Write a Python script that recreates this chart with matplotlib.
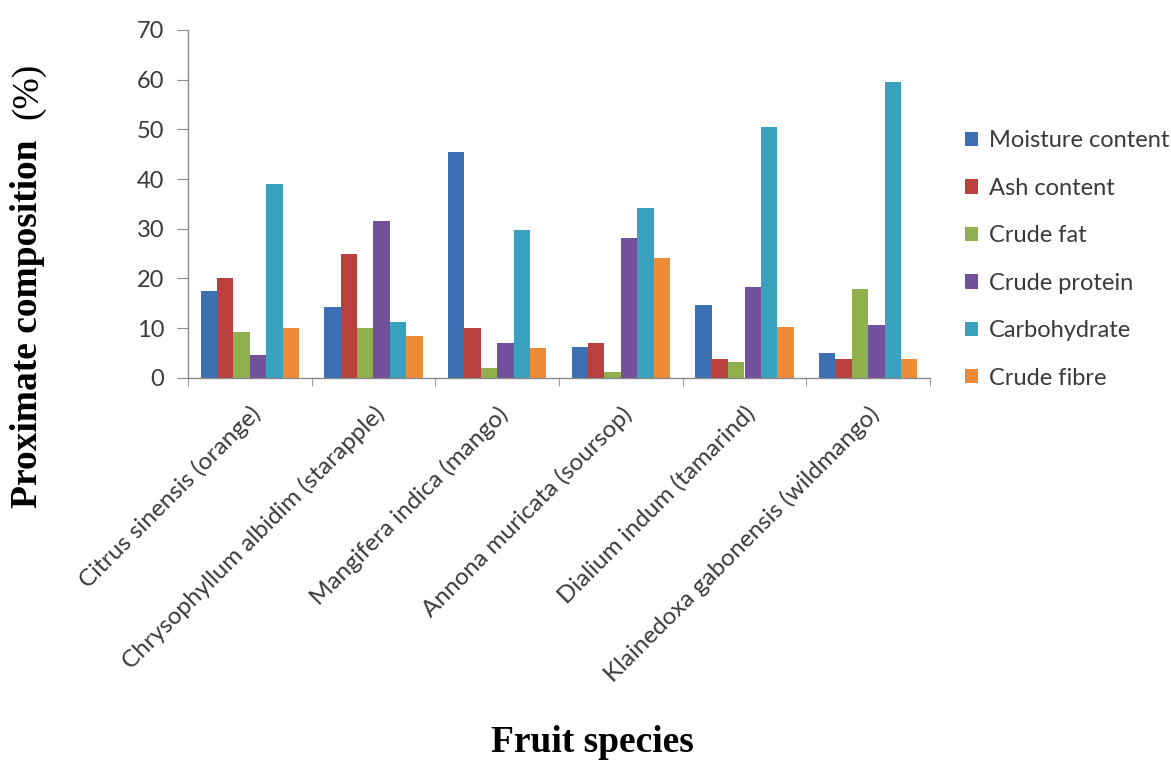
import numpy as np
import matplotlib
matplotlib.use('Agg')
import matplotlib.pyplot as plt

# fruit species and their proximate composition (%)
species = ['Citrus sinensis (orange)', 'Chrysophyllum albidim (starapple)',
           'Mangifera indica (mango)', 'Annona muricata (soursop)',
           'Dialium indum (tamarind)', 'Klainedoxa gabonensis (wildmango)']
moisture = [17.5, 14.2, 45.4, 6.1, 14.6, 4.9]
ash = [20.1, 25.0, 10.1, 7.0, 3.7, 3.7]
fat = [9.1, 10.1, 2.0, 1.2, 3.1, 17.8]
protein = [4.6, 31.5, 6.9, 28.1, 18.2, 10.6]
carbohydrate = [38.9, 11.2, 29.7, 34.2, 50.5, 59.6]
fibre = [10.1, 8.3, 5.9, 24.0, 10.3, 3.7]

series_names = ['Moisture content', 'Ash content', 'Crude fat',
                'Crude protein', 'Carbohydrate', 'Crude fibre']
colors = ['#3d6fb3', '#b9403c', '#8fb04c', '#71519b', '#38a2bf', '#ee8b36']
all_series = [moisture, ash, fat, protein, carbohydrate, fibre]

W, H = 1171, 760
fig = plt.figure(figsize=(W / 100, H / 100), dpi=100)
ax = fig.add_axes([188 / W, 1 - 377.7 / H, 742 / W, (377.7 - 30) / H])

text_font = ['Lato', 'DejaVu Sans']
text_col = '#3a3a3a'
axis_col = '#8a8a8a'
fs = 17

x = np.arange(len(species))
bw = 1 / 7.56
for i, (vals, name, c) in enumerate(zip(all_series, series_names, colors)):
    ax.bar(x + (i - 2.5) * bw, vals, bw, color=c, label=name)

ax.set_xlim(-0.5, len(species) - 0.5)
ax.set_ylim(0, 70)
ax.set_yticks(range(0, 71, 10))

# category labels sit at the centres, tick marks between the groups
ax.set_xticks(x)
ax.set_xticklabels(species, rotation=45, ha='right', va='top',
                   rotation_mode='anchor', family=text_font, fontsize=17.5, color=text_col)
ax.set_xticks(np.arange(-0.5, len(species)), minor=True)
ax.tick_params(axis='x', which='major', length=0, pad=18)
ax.tick_params(axis='x', which='minor', length=6, color=axis_col, direction='out')
ax.tick_params(axis='y', length=8, color=axis_col, direction='out', pad=9,
               labelsize=fs, labelcolor=text_col)
for lab in ax.get_yticklabels():
    lab.set_family(text_font)

for s in ['top', 'right']:
    ax.spines[s].set_visible(False)
for s in ['left', 'bottom']:
    ax.spines[s].set_color(axis_col)
    ax.spines[s].set_linewidth(1)

leg = ax.legend(loc='upper left', bbox_to_anchor=(956 / W, 1 - 121 / H),
                bbox_transform=fig.transFigure, frameon=False,
                prop={'family': text_font, 'size': fs},
                handlelength=0.55, handleheight=0.55, handletextpad=0.45,
                labelspacing=1.12, borderaxespad=0)
for t in leg.get_texts():
    t.set_color(text_col)

# axis titles in bold Times
serif = ['Liberation Serif', 'DejaVu Serif']
fig.text(28 / W, 1 - 508 / H, 'Proximate composition', rotation=90,
         ha='center', va='bottom', family=serif, weight='bold', fontsize=27)
fig.text(28 / W, 1 - 63 / H, '(%)', rotation=90,
         ha='center', va='top', family=serif, fontsize=27)
fig.text(592 / W, 1 - 742 / H, 'Fruit species', ha='center', va='center',
         family=serif, weight='bold', fontsize=27)

plt.savefig('out.png', dpi=100)
